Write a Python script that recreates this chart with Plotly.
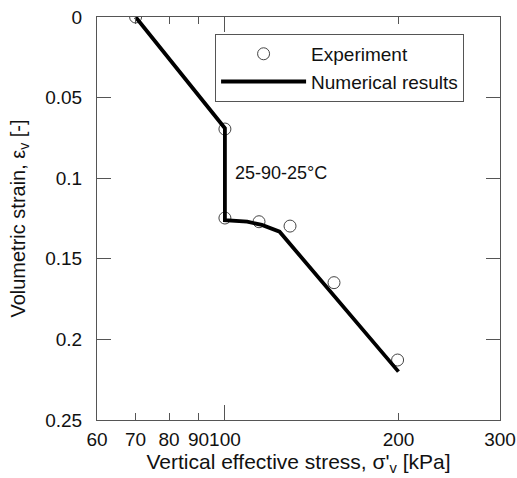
import math
import plotly.graph_objects as go

# Experimental data
exp_stress = [70, 100, 100, 114.6, 129.7, 154.6, 199.3]
exp_strain = [0.0, 0.0695, 0.1247, 0.127, 0.1297, 0.1648, 0.2128]

# Numerical results
num_stress = [70, 100, 100, 109.3, 115.9, 124.4, 200]
num_strain = [0.0, 0.069, 0.126, 0.127, 0.129, 0.1332, 0.220]

x_tickvals = [60, 70, 80, 90, 100, 200, 300]
x_ticktext = ["60", "70", "80", "90", "100", "200", "300"]
y_tickvals = [0, 0.05, 0.1, 0.15, 0.2, 0.25]
y_ticktext = ["0", "0.05", "0.1", "0.15", "0.2", "0.25"]

label_stress = 103.3
label_strain = 0.0968

FONT = "Liberation Sans, Arial, sans-serif"
AX = "#555555"
TXT = "#111111"
XR = [math.log10(60), math.log10(300)]

fig = go.Figure()
fig.add_trace(go.Scatter(
    x=exp_stress, y=exp_strain, mode="markers", name="Experiment",
    marker=dict(symbol="circle-open", size=12, color="#444444", line=dict(width=1)),
))
fig.add_trace(go.Scatter(
    x=num_stress, y=num_strain, mode="lines", name="Numerical results",
    line=dict(color="black", width=3.8),
))
# invisible trace to hold secondary x axis (long decade tick)
fig.add_trace(go.Scatter(x=[60, 300], y=[0, 0.25], xaxis="x2", mode="markers",
                         marker=dict(opacity=0), showlegend=False, hoverinfo="skip"))

fig.add_annotation(x=math.log10(label_stress), y=label_strain, xref="x", yref="y",
                   text="25-90-25°C", showarrow=False, xanchor="left", yanchor="middle",
                   font=dict(family=FONT, size=18, color=TXT))

fig.update_layout(
    width=517, height=478,
    margin=dict(l=97, r=17, t=17, b=58),
    plot_bgcolor="white", paper_bgcolor="white",
    font=dict(family=FONT, size=19, color=TXT),
    showlegend=True,
    legend=dict(x=0.293, y=0.958, xanchor="left", yanchor="top",
                bordercolor=AX, borderwidth=1, bgcolor="white",
                font=dict(family=FONT, size=19, color=TXT),
                itemwidth=85, tracegroupgap=0),
    xaxis=dict(type="log", range=XR, automargin=False,
               tickmode="array", tickvals=x_tickvals, ticktext=x_ticktext,
               ticks="inside", ticklen=7, tickcolor=AX, tickwidth=1,
               showline=True, linecolor=AX, linewidth=1, mirror="ticks",
               showgrid=False, zeroline=False, tickangle=0, ticklabelstandoff=2,
               tickfont=dict(family=FONT, size=19, color=TXT),
               title=dict(text="Vertical effective stress, σ'<sub>v</sub> [kPa]",
                          standoff=0, font=dict(family=FONT, size=21, color=TXT))),
    xaxis2=dict(type="log", range=XR, overlaying="x", automargin=False,
                tickmode="array", tickvals=[100], showticklabels=False,
                ticks="inside", ticklen=15, tickcolor=AX, tickwidth=1,
                showline=False, mirror="ticks", showgrid=False, zeroline=False,
                side="bottom"),
    yaxis=dict(range=[0.25, 0], automargin=False,
               tickmode="array", tickvals=y_tickvals, ticktext=y_ticktext,
               ticks="inside", ticklen=14, tickcolor=AX, tickwidth=1,
               showline=True, linecolor=AX, linewidth=1, mirror="ticks",
               showgrid=False, zeroline=False, ticklabelstandoff=10,
               tickfont=dict(family=FONT, size=19, color=TXT),
               title=dict(text="Volumetric strain, ε<sub>v</sub> [-]", standoff=14,
                          font=dict(family=FONT, size=20, color=TXT))),
)

fig.write_html("out.html")
